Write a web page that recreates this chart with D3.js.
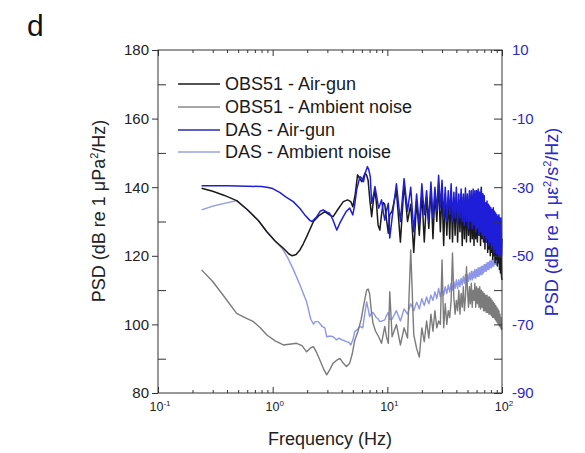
<!DOCTYPE html>
<html><head><meta charset="utf-8">
<script src="https://cdn.jsdelivr.net/npm/d3@7/dist/d3.min.js"></script>
<style>body{margin:0;background:#fff}text{font-family:"Liberation Sans",Arial,Helvetica,sans-serif}</style>
</head><body>
<svg id="c" width="585" height="453"></svg>
<script>
// ---------- data ----------
const decades = [0.1, 1, 10, 100];
const decadeExp = ["-1", "0", "1", "2"];
const minorFreq = [0.2,0.3,0.4,0.5,0.6,0.7,0.8,0.9,2,3,4,5,6,7,8,9,20,30,40,50,60,70,80,90];
const leftTicks = [80, 100, 120, 140, 160, 180];
const leftMinor = [90, 110, 130, 150, 170];
const rightTicks = [-90, -70, -50, -30, -10, 10];
const rightMinor = [-80, -60, -40, -20, 0];
const seriesNames = ["OBS51 - Air-gun", "OBS51 - Ambient noise", "DAS - Air-gun", "DAS - Ambient noise"];

// low-frequency part, [Hz, dB]
const obsAirLF = [[0.24,139.7],[0.3,138.8],[0.38,137.6],[0.485,136.1],[0.6,133.5],[0.75,130.3],[0.89,127.0],[1.05,124.3],[1.24,122.2],[1.38,120.6],[1.48,120.0],[1.6,120.4],[1.73,121.7],[1.85,123.5],[1.98,125.6],[2.27,130.0],[2.55,131.8],[2.85,132.9],[3.1,132.0],[3.37,131.4],[3.7,133.5],[4.13,135.8],[4.5,136.3],[4.8,135.8],[5.0,134.3],[5.25,138],[5.5,143.6],[5.75,142.5],[6.0,141.6],[6.2,143.0],[6.4,144.1],[6.6,143.5],[6.8,142.0],[7.05,136],[7.3,131.4],[7.55,136],[7.8,139.3],[8.05,135],[8.3,129],[8.6,127.5],[8.9,132],[9.2,135.5],[9.5,135.0],[9.8,131],[10.2,126.6],[10.5,132]];
const obsAmbLF = [[0.24,115.9],[0.3,112.5],[0.38,108],[0.485,103.2],[0.55,102.3],[0.68,100.8],[0.78,99],[0.89,96.9],[1.05,95.2],[1.24,94.0],[1.45,94.3],[1.62,94.5],[1.8,93.8],[1.98,92.0],[2.15,93.2],[2.27,93.5],[2.4,92],[2.58,89.6],[2.8,86.8],[2.96,85.3],[3.15,86.8],[3.37,88.7],[3.6,89.5],[3.87,90.1],[4.1,88.8],[4.4,87.7],[4.7,88.7],[4.95,91.5],[5.2,95.4],[5.55,98],[5.9,101.3],[6.25,106],[6.6,110.0],[6.8,110.3],[7.0,109],[7.25,104],[7.5,100.3],[7.9,98],[8.4,96.4],[8.9,94.5],[9.2,97],[9.5,99.4],[9.8,96.5],[10.2,94.5],[10.5,109.5]];
// DAS in right-axis units (dB re 1 µε²/s²/Hz)
const dasAirLF = [[0.24,-29.6],[0.4,-29.6],[0.6,-29.7],[0.8,-29.8],[0.89,-30.0],[1.0,-30.4],[1.15,-31.5],[1.3,-32.8],[1.51,-34.2],[1.73,-36.2],[1.9,-38],[2.1,-39.6],[2.2,-40.0],[2.4,-38.8],[2.6,-37.0],[2.76,-36.6],[2.95,-37.2],[3.14,-37.6],[3.35,-39.5],[3.62,-42.5],[3.85,-40.5],[4.13,-38.6],[4.4,-37],[4.7,-36.1],[5.0,-38.1],[5.2,-35],[5.4,-30.8],[5.77,-26.9],[6.0,-27.5],[6.2,-28.4],[6.4,-26],[6.7,-24],[6.9,-25],[7.1,-26.9],[7.3,-34.7],[7.55,-32.5],[7.8,-29.8],[8.1,-33],[8.4,-36.1],[8.65,-35],[8.9,-33.7],[9.2,-37],[9.5,-39.6],[9.8,-37],[10.2,-34.7],[10.5,-44.8]];
const dasAmbLF = [[0.24,-36.6],[0.3,-35.5],[0.38,-34.7],[0.485,-33.9],[0.6,-36.6],[0.75,-39.7],[0.89,-43.0],[1.05,-45.7],[1.2,-47.7],[1.35,-50.5],[1.52,-54.1],[1.73,-58.5],[1.98,-63.5],[2.15,-68.5],[2.27,-69.9],[2.35,-69.2],[2.5,-69.2],[2.7,-70.6],[2.85,-71],[2.96,-73.6],[3.2,-73.4],[3.37,-73.6],[3.6,-74.5],[3.8,-74],[4.0,-74.5],[4.2,-74.7],[4.4,-75.0],[4.6,-75.2],[4.8,-76.0],[5.0,-74.5],[5.2,-72.1],[5.5,-71.4],[5.77,-70.6],[6.1,-71],[6.35,-67],[6.6,-63.4],[6.8,-65.5],[7.0,-67.7],[7.25,-66.8],[7.5,-66.5],[7.75,-67.2],[8.0,-68],[8.3,-68.4],[8.6,-69.2],[9.0,-69],[9.5,-68.7],[9.8,-67.5],[10.2,-66.5],[10.5,-68.5]];

// high-frequency part, shared frequency grid (Hz)
const hfFreq = [11,12,13,14,15,16,17,18,19,20,21,22,23,24,25,26,27,28,29,30,31,32,33,34,35,36,37,38,39,40,41,42,43,44,45,46,47,48,49,50,51,52,53,54,55,56,57,58,59,60,61,62,63,64,65,66,67,68,69,70,71,72,73,74,75,76,77,78,79,80,81,82,83,84,85,86,87,88,89,90,91,92,93,94,95,96,97,98,99,100];
const obsAirHF = [133,139,124,141,130,135,121,136,126,138, 124,137,128,140,125,138,130,141,127,139, 123,138,126,137,125,139,124,137,126,138.5, 124,136,127,138,123,137,125,138,124,137, 126,136,124,137,125,136,123,138,125,139, 124,137,126,138.5,123,140,125,138,124,137, 122,135,124,134,121,134,122,132,120,133, 121,132,119,131,120,130,118,131,119,129, 117,128,118,128,116,127,115,126,114,113];
const obsAmbHF = [96.4,100,94,99,96,121.7,97,93,90.5,99, 95,101,96,103,98,104,99,101,100,118.8, 99,106,100,104,102,107,120.8,108,103,107, 104,110,103,109,105,111,104,108,116.8,110, 105,111,106,112,105,110,107,112,105,111, 106,110.5,105,111,104.5,110,105,109.5,104,109, 104,108.5,103.5,108.5,103.5,108,103,108,103,107.5, 102.5,107,102,106.5,102,106,101.5,105.5,101,105, 100.5,104.5,100,104,99.5,103,99,102,98.5,99];
const dasAirHF = [-39,-29,-40,-27.5,-37,-30,-43,-32,-41,-29, -38,-31,-40,-28.5,-39,-30,-37,-26.5,-36,-28, -39,-30,-40,-31,-38,-29,-40,-31.5,-39,-30, -41,-32,-39,-30.5,-40,-32,-41,-30.2,-40,-32, -42,-31,-40,-31,-42,-30.5,-41,-31,-43,-31, -42,-30.5,-44,-31.5,-43,-30.5,-44,-32,-45,-32.5, -44,-34.5,-46,-34,-45,-35,-47,-35.5,-46,-36, -48,-36.5,-47,-36,-49,-37,-48,-37.5,-49.5,-38, -49,-38.5,-50,-38,-49.5,-39,-50.5,-39,-50,-45];
const dasAmbHF = [-68.5,-66,-69,-65.5,-67,-64,-66,-63.5,-65.5,-62.5, -64.5,-62,-64,-61.5,-63,-60.5,-62.5,-59.5,-62,-59.5, -61.5,-59,-61,-58.5,-60.5,-58,-60,-57.5,-59.5,-57, -59.5,-57,-59,-56.5,-58.5,-56,-58,-55.5,-58,-55.5, -57.5,-55,-57,-54.5,-57,-54.5,-56.5,-54,-56.5,-54, -56,-53.5,-56,-53.5,-55.5,-53,-55.5,-53,-55,-52.5, -54.5,-52.5,-54.5,-52,-54,-52,-54,-51.5,-53.5,-51.5, -53.5,-51,-53,-51,-53,-50.5,-52.5,-50.5,-52.5,-50.5, -52,-50,-52,-50,-51.5,-49.5,-51.5,-49.5,-51,-51];

// ---------- chart ----------
const svg = d3.select("#c");
const m = {l:158, r:502, t:50, b:393};
const x = d3.scaleLog().domain([0.1, 100]).range([m.l, m.r]);
const yL = d3.scaleLinear().domain([80, 180]).range([m.b, m.t]);
const yR = d3.scaleLinear().domain([-90, 10]).range([m.b, m.t]);

const join = (lf, hf) => lf.concat(hfFreq.map((f, i) => [f, hf[i]]));
const series = [
  {data: join(dasAmbLF, dasAmbHF), y: yR, color: "#8d97ea", w: 1.4},
  {data: join(obsAmbLF, obsAmbHF), y: yL, color: "#7b7b7b", w: 1.4},
  {data: join(obsAirLF, obsAirHF), y: yL, color: "#1a1a1a", w: 1.5},
  {data: join(dasAirLF, dasAirHF), y: yR, color: "#1e1ed8", w: 1.5}
];
const legendColors = ["#1a1a1a", "#8a8a8a", "#2b2bb8", "#9aa2e2"];

const g = svg.append("g");
series.forEach(s => {
  g.append("path").datum(s.data)
    .attr("fill", "none").attr("stroke", s.color).attr("stroke-width", s.w)
    .attr("stroke-linejoin", "round")
    .attr("d", d3.line().x(d => x(d[0])).y(d => s.y(d[1])));
});

// frame
const axisColor = "#333";
svg.append("rect").attr("x", m.l).attr("y", m.t).attr("width", m.r - m.l).attr("height", m.b - m.t)
  .attr("fill", "none").attr("stroke", axisColor).attr("stroke-width", 1);

function styleAxis(sel) {
  sel.select(".domain").remove();
  sel.selectAll("line").attr("stroke", axisColor);
}
// x ticks
svg.append("g").attr("transform", `translate(0,${m.b})`)
  .call(d3.axisBottom(x).tickValues(decades).tickSize(-6).tickFormat("")).call(styleAxis);
svg.append("g").attr("transform", `translate(0,${m.b})`)
  .call(d3.axisBottom(x).tickValues(minorFreq).tickSize(-3).tickFormat("")).call(styleAxis);
svg.append("g").attr("transform", `translate(0,${m.t})`)
  .call(d3.axisTop(x).tickValues(decades).tickSize(-6).tickFormat("")).call(styleAxis);
svg.append("g").attr("transform", `translate(0,${m.t})`)
  .call(d3.axisTop(x).tickValues(minorFreq).tickSize(-3).tickFormat("")).call(styleAxis);

// x labels
decades.forEach((d, i) => {
  const t = svg.append("text").attr("x", x(d) + 2).attr("y", 411).attr("text-anchor", "middle")
    .attr("font-size", 12.5).attr("fill", "#222");
  t.append("tspan").text("10");
  t.append("tspan").attr("dy", -5).attr("font-size", 8).text(decadeExp[i]);
});

// left axis: major ticks outward, minor inward
svg.append("g").attr("transform", `translate(${m.l},0)`)
  .call(d3.axisLeft(yL).tickValues(leftTicks).tickSize(6).tickPadding(3).tickFormat(d => String(d)))
  .call(styleAxis)
  .call(a => a.selectAll("text").attr("font-size", 15).attr("fill", "#222")
    .style("font-family", '"Liberation Sans",Arial,sans-serif'));
svg.append("g").attr("transform", `translate(${m.l},0)`)
  .call(d3.axisLeft(yL).tickValues(leftMinor).tickSize(-8).tickFormat("")).call(styleAxis);

// right axis
const blueText = "#2a2ac8";
svg.append("g").attr("transform", `translate(${m.r},0)`)
  .call(d3.axisRight(yR).tickValues(rightTicks).tickSize(-8).tickPadding(10).tickFormat(d => String(d)))
  .call(styleAxis)
  .call(a => a.selectAll("text").attr("font-size", 15).attr("fill", blueText)
    .style("font-family", '"Liberation Sans",Arial,sans-serif'));
svg.append("g").attr("transform", `translate(${m.r},0)`)
  .call(d3.axisRight(yR).tickValues(rightMinor).tickSize(-8).tickFormat("")).call(styleAxis);

// axis titles
const lt = svg.append("text").attr("transform", "translate(105,211) rotate(-90)")
  .attr("text-anchor", "middle").attr("font-size", 18).attr("fill", "#222");
lt.append("tspan").text("PSD (dB re 1  \u03bcPa");
lt.append("tspan").attr("dy", -7).attr("font-size", 11).text("2");
lt.append("tspan").attr("dy", 7).text("/Hz)");

const rt = svg.append("text").attr("transform", "translate(558,222) rotate(-90)")
  .attr("text-anchor", "middle").attr("font-size", 18).attr("fill", blueText);
rt.append("tspan").text("PSD (dB re 1  \u03bc\u03b5");
rt.append("tspan").attr("dy", -7).attr("font-size", 11).text("2");
rt.append("tspan").attr("dy", 7).text("/s");
rt.append("tspan").attr("dy", -7).attr("font-size", 11).text("2");
rt.append("tspan").attr("dy", 7).text("/Hz)");

svg.append("text").attr("x", 330).attr("y", 445).attr("text-anchor", "middle")
  .attr("font-size", 18).attr("fill", "#222").text("Frequency (Hz)");

svg.append("text").attr("x", 27).attr("y", 36).attr("font-size", 30).attr("fill", "#111").text("d");

// legend
const legY = [84, 107, 130, 152];
seriesNames.forEach((n, i) => {
  svg.append("line").attr("x1", 178).attr("x2", 220).attr("y1", legY[i]).attr("y2", legY[i])
    .attr("stroke", legendColors[i]).attr("stroke-width", 1.5);
  svg.append("text").attr("x", 225).attr("y", legY[i]).attr("dy", "0.36em")
    .attr("font-size", 18).attr("fill", "#1a1a1a").text(n);
});
</script>
</body></html>
